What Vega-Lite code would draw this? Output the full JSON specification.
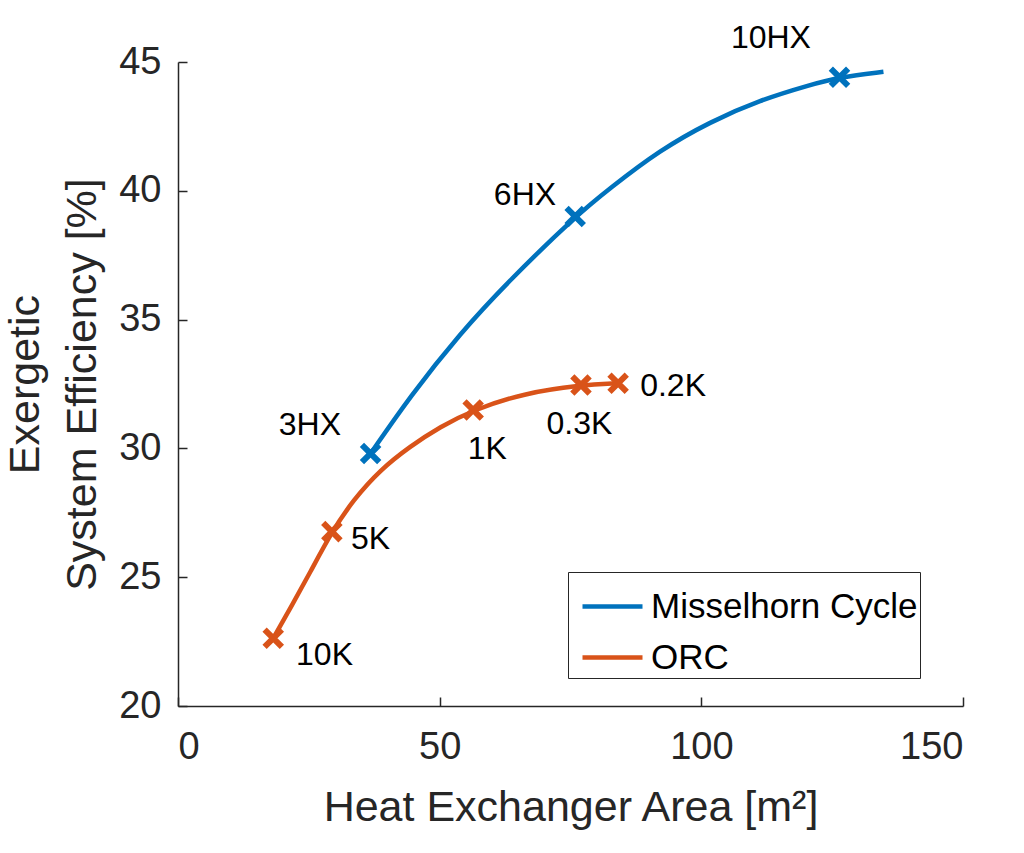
{
  "$schema": "https://vega.github.io/schema/vega-lite/v6.json",
  "description": "Exergetic system efficiency vs heat exchanger area",
  "width": 785,
  "height": 644,
  "autosize": "none",
  "padding": {"left": 178, "top": 62, "right": 61, "bottom": 147},
  "background": "white",
  "config": {
    "view": {"stroke": null},
    "font": "Liberation Sans",
    "axis": {
      "grid": false,
      "domainColor": "#262626",
      "domainWidth": 1.5,
      "tickColor": "#262626",
      "tickWidth": 1.5,
      "tickSize": -9,
      "labelFont": "Liberation Sans",
      "labelFontSize": 38,
      "labelColor": "#262626",
      "titleFont": "Liberation Sans",
      "titleFontSize": 43,
      "titleFontWeight": "normal",
      "titleColor": "#262626"
    }
  },
  "datasets": {
    "curve": [
      {"series": "Misselhorn Cycle", "area": 36.8, "eff": 29.8},
      {"series": "Misselhorn Cycle", "area": 44.3, "eff": 32.01},
      {"series": "Misselhorn Cycle", "area": 53.9, "eff": 34.47},
      {"series": "Misselhorn Cycle", "area": 63.4, "eff": 36.54},
      {"series": "Misselhorn Cycle", "area": 75.9, "eff": 39.0},
      {"series": "Misselhorn Cycle", "area": 82.55, "eff": 40.1},
      {"series": "Misselhorn Cycle", "area": 92.1, "eff": 41.58},
      {"series": "Misselhorn Cycle", "area": 101.7, "eff": 42.68},
      {"series": "Misselhorn Cycle", "area": 111.2, "eff": 43.52},
      {"series": "Misselhorn Cycle", "area": 120.8, "eff": 44.11},
      {"series": "Misselhorn Cycle", "area": 126.4, "eff": 44.41},
      {"series": "Misselhorn Cycle", "area": 134.8, "eff": 44.62},
      {"series": "ORC", "area": 18.2, "eff": 22.63},
      {"series": "ORC", "area": 21.7, "eff": 23.88},
      {"series": "ORC", "area": 25.2, "eff": 25.17},
      {"series": "ORC", "area": 29.4, "eff": 26.77},
      {"series": "ORC", "area": 33.5, "eff": 28.0},
      {"series": "ORC", "area": 38.6, "eff": 29.16},
      {"series": "ORC", "area": 44.3, "eff": 30.07},
      {"series": "ORC", "area": 50.1, "eff": 30.84},
      {"series": "ORC", "area": 56.4, "eff": 31.49},
      {"series": "ORC", "area": 66.0, "eff": 32.14},
      {"series": "ORC", "area": 77.0, "eff": 32.46},
      {"series": "ORC", "area": 84.1, "eff": 32.53}
    ],
    "markers": [
      {"series": "Misselhorn Cycle", "area": 36.8, "eff": 29.8},
      {"series": "Misselhorn Cycle", "area": 75.9, "eff": 39.0},
      {"series": "Misselhorn Cycle", "area": 126.4, "eff": 44.41},
      {"series": "ORC", "area": 18.2, "eff": 22.63},
      {"series": "ORC", "area": 29.4, "eff": 26.77},
      {"series": "ORC", "area": 56.4, "eff": 31.49},
      {"series": "ORC", "area": 77.0, "eff": 32.46},
      {"series": "ORC", "area": 84.1, "eff": 32.53}
    ],
    "labels": [
      {"label": "3HX", "area": 25.2, "eff": 30.91},
      {"label": "6HX", "area": 66.3, "eff": 39.84},
      {"label": "10HX", "area": 113.3, "eff": 45.92},
      {"label": "10K", "area": 28.0, "eff": 21.98},
      {"label": "5K", "area": 36.8, "eff": 26.48},
      {"label": "1K", "area": 59.1, "eff": 29.96},
      {"label": "0.3K", "area": 76.7, "eff": 30.96},
      {"label": "0.2K", "area": 94.6, "eff": 32.42}
    ]
  },
  "encoding": {
    "x": {
      "field": "area",
      "type": "quantitative",
      "scale": {"domain": [0, 150], "nice": false},
      "axis": {"values": [0, 50, 100, 150], "labelPadding": 31, "titlePadding": 20, "title": "Heat Exchanger Area [m²]"}
    },
    "y": {
      "field": "eff",
      "type": "quantitative",
      "scale": {"domain": [20, 45], "nice": false, "zero": false},
      "axis": {
        "values": [20, 25, 30, 35, 40, 45],
        "labelPadding": 26,
        "titlePadding": 14,
        "titleLineHeight": 57,
        "title": ["Exergetic", "System Efficiency [%]"]
      }
    }
  },
  "layer": [
    {
      "data": {"name": "curve"},
      "mark": {"type": "line", "interpolate": "basis", "strokeWidth": 4.5},
      "encoding": {
        "color": {
          "field": "series",
          "type": "nominal",
          "scale": {"domain": ["Misselhorn Cycle", "ORC"], "range": ["#0072BD", "#D95319"]},
          "legend": {
            "title": null,
            "orient": "none",
            "legendX": 390,
            "legendY": 510,
            "strokeColor": "#262626",
            "fillColor": "white",
            "padding": 2,
            "symbolType": "stroke",
            "symbolSize": 3600,
            "symbolStrokeWidth": 4.5,
            "symbolOffset": 10,
            "labelOffset": 6,
            "labelFontSize": 35,
            "labelFont": "Liberation Sans",
            "labelColor": "#000000",
            "labelLimit": 400,
            "rowPadding": -15
          }
        }
      }
    },
    {
      "data": {"name": "markers"},
      "mark": {
        "type": "point",
        "shape": "M-1,-1L1,1M1,-1L-1,1",
        "filled": false,
        "strokeWidth": 6,
        "size": 300,
        "opacity": 1
      },
      "encoding": {
        "color": {"field": "series", "type": "nominal", "legend": null}
      }
    },
    {
      "data": {"name": "labels"},
      "mark": {"type": "text", "fontSize": 32, "font": "Liberation Sans", "color": "#000000", "align": "center", "baseline": "middle"},
      "encoding": {
        "text": {"field": "label", "type": "nominal"}
      }
    }
  ]
}
